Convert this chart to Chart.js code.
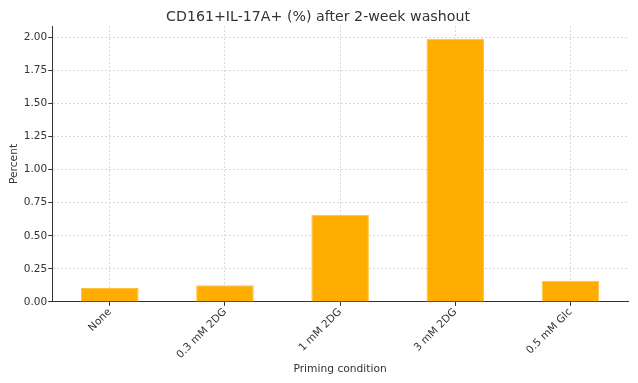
<!DOCTYPE html>
<html>
<head>
<meta charset="utf-8">
<script src="https://cdn.jsdelivr.net/npm/chart.js@4/dist/chart.umd.min.js"></script>
<style>
	html, body { margin: 0; padding: 0; background: #fff; }
	#wrap { width: 638px; height: 383px; }
</style>
</head>
<body>
<div id="wrap"><canvas id="barChart"></canvas></div>
<script>
const conditions = ['None', '0.3 mM 2DG', '1 mM 2DG', '3 mM 2DG', '0.5 mM Glc'];
const percentValues = [0.105, 0.125, 0.66, 1.99, 0.16];
const yTickValues = [0, 0.25, 0.5, 0.75, 1.0, 1.25, 1.5, 1.75, 2.0];

const font = 'DejaVu Sans';
const textColor = '#333333';
const gridColor = '#d8d8d8';

const ctx = document.getElementById('barChart');

new Chart(ctx, {
	type: 'bar',
	data: {
		labels: conditions,
		datasets: [
			{
				label: 'Percent',
				data: percentValues,
				backgroundColor: '#ffad00',
				borderColor: '#ffc040',
				borderWidth: 1,
				barPercentage: 0.5,
				categoryPercentage: 1.0,
			},
		],
	},
	options: {
		responsive: true,
		maintainAspectRatio: false,
		animation: false,
		layout: { padding: { left: 8, right: 10, top: 0, bottom: 7 } },
		plugins: {
			legend: { display: false },
			tooltip: { enabled: false },
			title: {
				display: true,
				text: 'CD161+IL-17A+ (%) after 2-week washout',
				color: textColor,
				font: { family: font, size: 14.2, weight: 'normal' },
				padding: { top: 9, bottom: 0 },
			},
		},
		scales: {
			x: {
				afterFit: (scale) => {
					scale.height += 2;
				},
				grid: { color: gridColor, tickColor: textColor, tickLength: 4, offset: false },
				border: { display: true, color: textColor, width: 1, dash: [2, 2] },
				ticks: {
					color: textColor,
					font: { family: font, size: 10.5 },
					maxRotation: 45,
					minRotation: 45,
					padding: 0,
				},
				title: {
					display: true,
					text: 'Priming condition',
					color: textColor,
					font: { family: font, size: 10.7 },
					padding: { top: 0, bottom: 0 },
				},
			},
			y: {
				min: 0,
				max: 2.087,
				grid: { color: gridColor, tickColor: textColor, tickLength: 4 },
				border: { display: true, color: textColor, width: 1, dash: [2, 2] },
				afterBuildTicks: (scale) => {
					scale.ticks = yTickValues.map((v) => ({ value: v }));
				},
				ticks: {
					color: textColor,
					font: { family: font, size: 10.5 },
					padding: 1,
					callback: (v) => Number(v).toFixed(2),
				},
				title: {
					display: true,
					text: 'Percent',
					color: textColor,
					font: { family: font, size: 10.7 },
					padding: { top: 0, bottom: 2 },
				},
			},
		},
	},
});
</script>
</body>
</html>
